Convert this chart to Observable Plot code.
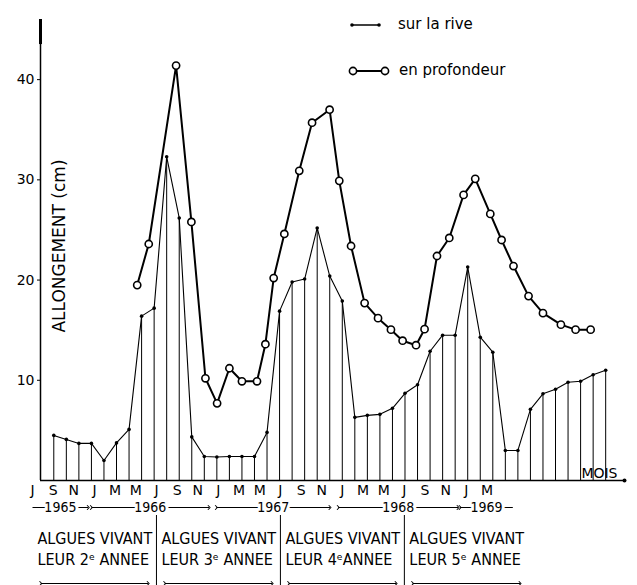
<!DOCTYPE html>
<html><head><meta charset="utf-8">
<script src="https://cdn.jsdelivr.net/npm/d3@7"></script>
<script src="https://cdn.jsdelivr.net/npm/@observablehq/plot@0.6"></script>
<style>
body{margin:0;background:#fff;}
#wrap{position:relative;width:637px;height:585px;overflow:hidden;background:#fff;}
#wrap svg{display:block;}
#legend{position:absolute;left:0;top:0;}
</style></head><body><div id="wrap"></div>
<script>
// ---- data (month index 0 = July 1965) ----
const riveMonths = d3.range(45);
const riveValues = [4.5,4.1,3.7,3.7,2.0,3.75,5.1,16.4,17.2,32.3,26.2,4.35,2.4,2.35,2.4,2.4,2.4,4.8,16.9,19.8,20.1,25.2,20.4,17.9,6.3,6.5,6.6,7.2,8.7,9.55,12.9,14.5,14.5,21.3,14.3,12.8,3.0,3.0,7.1,8.65,9.1,9.8,9.9,10.55,11.0];
const profMonths = [6.65,7.57,9.75,10.97,12.09,13.02,14.0,15.0,16.2,16.87,17.53,18.38,19.57,20.59,21.99,22.76,23.7,24.78,25.85,26.88,27.81,28.88,29.56,30.55,31.53,32.67,33.6,34.8,35.7,36.65,37.85,39.0,40.43,41.6,42.8];
const profValues = [19.5,23.6,41.4,25.8,10.2,7.7,11.2,9.9,9.9,13.6,20.2,24.6,30.9,35.7,37.0,29.9,23.4,17.7,16.2,15.05,13.95,13.5,15.1,22.4,24.2,28.5,30.1,26.6,24.0,21.4,18.4,16.7,15.55,15.05,15.05];
const yTicks = [10,20,30,40];
const tickLabels = ["J","S","N","J","M","M","J","S","N","J","M","M","J","S","N","J","M","M","J","S","N","J","M"];
const tickMonths = tickLabels.map((_, i) => i * 2);
const yearNames = ["1965","1966","1967","1968","1969"];
const yearStarts = [0, 5.7, 17.8, 29.6, 41.4];
const yearEnds = [5.4, 17.1, 28.8, 41.2, 46.5];
const blockStarts = [0, 12, 24, 36];
const blockLine1 = ["ALGUES VIVANT","ALGUES VIVANT","ALGUES VIVANT","ALGUES VIVANT"];
const blockLine2 = ["LEUR 2ᵉ ANNEE","LEUR 3ᵉ ANNEE","LEUR 4ᵉANNEE","LEUR 5ᵉ ANNEE"];
const separators = [12, 24, 36];
const legendNames = ["sur la rive", "en profondeur"];

// ---- tables ----
const rive = riveMonths.map((m, i) => ({m, v: riveValues[i]}));
const prof = profMonths.map((m, i) => ({m, v: profValues[i]}));
const ticks = tickMonths.map((m, i) => ({m, label: tickLabels[i]}));
const years = yearNames.map((name, i) => ({name, s: yearStarts[i], e: yearEnds[i], c: (yearStarts[i] + yearEnds[i]) / 2}));
const blocks = blockStarts.map((s, i) => ({s, l1: blockLine1[i], l2: blockLine2[i]}));

const FONT = '"DejaVu Sans", sans-serif';
const COND = '"DejaVu Sans Condensed", "DejaVu Sans", sans-serif';
const xDom = [-1.06, 45.5];

const main = Plot.plot({
  width: 637, height: 482,
  marginLeft: 40, marginRight: 13, marginTop: 19, marginBottom: 2,
  x: {domain: xDom, axis: null},
  y: {domain: [0, 46], axis: null},
  style: {fontFamily: FONT, fontSize: "14px", color: "black", background: "white", overflow: "visible"},
  marks: [
    Plot.ruleX(rive, {x: "m", y1: 0, y2: "v", stroke: "black", strokeWidth: 1}),
    Plot.ruleY([0], {stroke: "black", strokeWidth: 1.5}),
    Plot.ruleX([xDom[0]], {y1: 0, y2: 46, stroke: "black", strokeWidth: 1.5}),
    Plot.ruleX([xDom[0]], {y1: 43.5, y2: 46, stroke: "black", strokeWidth: 3}),
    Plot.axisY({ticks: yTicks, tickSize: 3, tickPadding: 3, fontSize: 14, label: null}),
    Plot.line(rive, {x: "m", y: "v", stroke: "black", strokeWidth: 1.1}),
    Plot.dot(rive, {x: "m", y: "v", r: 1.8, fill: "black"}),
    Plot.line(prof, {x: "m", y: "v", stroke: "black", strokeWidth: 2}),
    Plot.dot(prof, {x: "m", y: "v", r: 3.6, fill: "white", stroke: "black", strokeWidth: 1.6}),
    Plot.dot([xDom[1]], {x: d => d, y: 0, r: 2, fill: "black"}),
    Plot.text(["ALLONGEMENT (cm)"], {frameAnchor: "left", dx: 19, dy: -4, rotate: -90, textAnchor: "middle", fontSize: 17, fill: "black"}),
    Plot.text(["MOIS"], {frameAnchor: "bottom-right", dx: -7, dy: -3, lineAnchor: "bottom", textAnchor: "end", fontSize: 14, fill: "black"})
  ]
});

const bottom = Plot.plot({
  width: 637, height: 103,
  marginLeft: 32, marginRight: 150.5, marginTop: 0, marginBottom: 0,
  x: {domain: [0, 44], axis: null},
  y: {domain: [0, 103], range: [0, 103], axis: null},
  style: {fontFamily: FONT, fontSize: "14px", color: "black", background: "white", overflow: "visible"},
  marks: [
    Plot.text(ticks, {x: "m", y: 8, text: "label", fontSize: 14, fill: "black"}),
    Plot.link(years.slice(0, 1), {x1: "s", x2: "e", y1: 25, y2: 25, stroke: "black", markerEnd: "arrow"}),
    Plot.link(years.slice(1, 4), {x1: "s", x2: "e", y1: 25, y2: 25, stroke: "black", markerStart: "arrow", markerEnd: "arrow"}),
    Plot.link(years.slice(4), {x1: "s", x2: "e", y1: 25, y2: 25, stroke: "black", markerStart: "arrow"}),
    Plot.text(years, {x: "c", y: 25, text: "name", fontSize: 14, fontFamily: COND, fill: "black", stroke: "white", strokeWidth: 6, paintOrder: "stroke"}),
    Plot.ruleX(separators, {y1: 33, y2: 103, stroke: "black", strokeWidth: 1}),
    Plot.text(blocks, {x: "s", y: 56, dx: 5, text: "l1", textAnchor: "start", fontSize: 16, fontFamily: COND, fill: "black"}),
    Plot.text(blocks, {x: "s", y: 77, dx: 5, text: "l2", textAnchor: "start", fontSize: 16, fontFamily: COND, fill: "black"}),
    Plot.link(blocks, {x1: d => d.s + 0.8, x2: d => d.s + 11.2, y1: 101, y2: 101, stroke: "black", markerStart: "arrow", markerEnd: "arrow"})
  ]
});

const wrap = document.getElementById("wrap");
wrap.appendChild(main);
wrap.appendChild(bottom);

// legend overlay
const leg = d3.select(wrap).append("svg").attr("id", "legend").attr("width", 637).attr("height", 90)
  .style("font-family", FONT).style("font-size", "15px");
const g1 = leg.append("g");
g1.append("line").attr("x1", 352).attr("x2", 379).attr("y1", 25).attr("y2", 25).attr("stroke", "black").attr("stroke-width", 1.5);
g1.selectAll("circle").data([352, 379]).join("circle").attr("cx", d => d).attr("cy", 25).attr("r", 1.8).attr("fill", "black");
g1.append("text").attr("x", 398).attr("y", 29).text(legendNames[0]);
const g2 = leg.append("g");
g2.append("line").attr("x1", 353).attr("x2", 385).attr("y1", 71).attr("y2", 71).attr("stroke", "black").attr("stroke-width", 2);
g2.selectAll("circle").data([353, 385]).join("circle").attr("cx", d => d).attr("cy", 71).attr("r", 3.6).attr("fill", "white").attr("stroke", "black").attr("stroke-width", 1.6);
g2.append("text").attr("x", 399).attr("y", 75).text(legendNames[1]);
</script></body></html>
